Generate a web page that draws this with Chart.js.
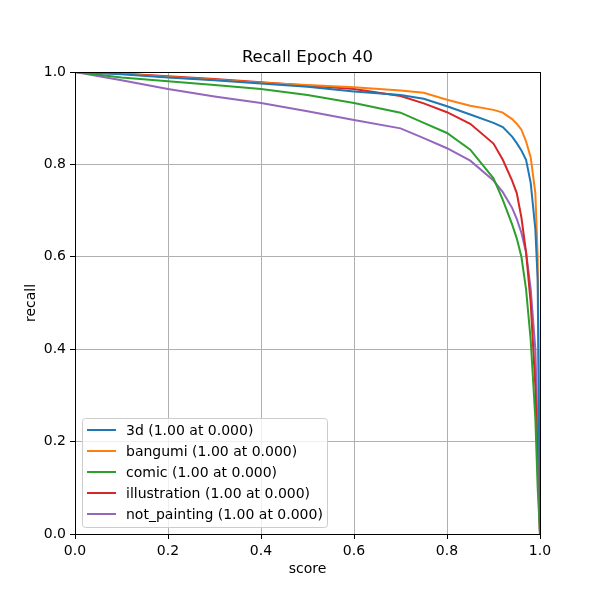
<!DOCTYPE html>
<html>
<head>
<meta charset="utf-8">
<script src="https://cdn.jsdelivr.net/npm/chart.js@4/dist/chart.umd.min.js"></script>
<style>html,body{margin:0;padding:0;background:#fff}</style>
</head>
<body>
<canvas id="c" width="600" height="600"></canvas>
<script>
const titleText = "Recall Epoch 40";
const xLabel = "score";
const yLabel = "recall";
const scores = [0,0.1,0.2,0.3,0.4,0.5,0.6,0.7,0.75,0.8,0.85,0.9,0.92,0.94,0.95,0.96,0.97,0.98,0.99,0.995,1.0];
const labels = ["3d (1.00 at 0.000)","bangumi (1.00 at 0.000)","comic (1.00 at 0.000)","illustration (1.00 at 0.000)","not_painting (1.00 at 0.000)"];
const recall3d =        [1,0.995,0.988,0.982,0.975,0.968,0.958,0.950,0.942,0.926,0.908,0.890,0.881,0.860,0.846,0.830,0.810,0.760,0.660,0.550,0.0];
const recallBangumi =   [1,0.996,0.989,0.983,0.977,0.972,0.967,0.960,0.955,0.940,0.927,0.918,0.912,0.898,0.888,0.875,0.850,0.815,0.738,0.600,0.0];
const recallComic =     [1,0.988,0.980,0.972,0.963,0.950,0.933,0.912,0.890,0.868,0.832,0.770,0.723,0.670,0.640,0.600,0.530,0.420,0.250,0.100,0.0];
const recallIllust =    [1,0.997,0.991,0.985,0.978,0.971,0.963,0.948,0.932,0.913,0.888,0.845,0.810,0.765,0.738,0.685,0.610,0.500,0.320,0.150,0.0];
const recallNotPaint =  [1,0.982,0.963,0.947,0.933,0.915,0.896,0.878,0.857,0.835,0.808,0.765,0.740,0.706,0.682,0.652,0.610,0.530,0.400,0.220,0.0];
const tickValues = [0,0.2,0.4,0.6,0.8,1.0];

const series = [recall3d, recallBangumi, recallComic, recallIllust, recallNotPaint];
const colors = ['#1f77b4','#ff7f0e','#2ca02c','#d62728','#9467bd'];
const FONT = "'DejaVu Sans', sans-serif";

const datasets = series.map((vals, k) => ({
  label: labels[k],
  data: vals.map((v, i) => ({x: scores[i], y: v})),
  borderColor: colors[k],
  backgroundColor: colors[k],
  borderWidth: 2,
  pointRadius: 0,
  tension: 0,
  fill: false
}));

const framePlugin = {
  id: 'frame',
  afterDatasetsDraw(chart) {
    const {ctx, chartArea: a} = chart;
    ctx.save();
    ctx.strokeStyle = '#000';
    ctx.lineWidth = 1;
    ctx.strokeRect(Math.round(a.left)+0.5, Math.round(a.top)+0.5, Math.round(a.right-a.left), Math.round(a.bottom-a.top));
    // title
    ctx.fillStyle = '#000';
    ctx.font = "16.5px " + FONT;
    ctx.textAlign = 'center';
    ctx.textBaseline = 'middle';
    ctx.fillText(titleText, (a.left + a.right) / 2, 58);
    // legend
    const bx = 82.5, by = 418.5, bw = 245, bh = 109, r = 3;
    ctx.beginPath();
    ctx.moveTo(bx+r, by);
    ctx.lineTo(bx+bw-r, by); ctx.quadraticCurveTo(bx+bw, by, bx+bw, by+r);
    ctx.lineTo(bx+bw, by+bh-r); ctx.quadraticCurveTo(bx+bw, by+bh, bx+bw-r, by+bh);
    ctx.lineTo(bx+r, by+bh); ctx.quadraticCurveTo(bx, by+bh, bx, by+bh-r);
    ctx.lineTo(bx, by+r); ctx.quadraticCurveTo(bx, by, bx+r, by);
    ctx.closePath();
    ctx.fillStyle = 'rgba(255,255,255,0.8)';
    ctx.fill();
    ctx.strokeStyle = '#cccccc';
    ctx.lineWidth = 1;
    ctx.stroke();
    ctx.font = "14px " + FONT;
    ctx.textBaseline = 'middle';
    ctx.textAlign = 'left';
    labels.forEach((lab, k) => {
      const y = 430 + k * 21;
      ctx.strokeStyle = colors[k];
      ctx.lineWidth = 2;
      ctx.beginPath();
      ctx.moveTo(87, y); ctx.lineTo(116, y);
      ctx.stroke();
      ctx.fillStyle = '#000';
      ctx.fillText(lab, 126, y + 1);
    });
    ctx.restore();
  }
};

new Chart(document.getElementById('c'), {
  type: 'line',
  data: { datasets },
  options: {
    responsive: false,
    animation: false,
    layout: { padding: { left: 0, right: 60, top: 72, bottom: 0 } },
    plugins: {
      legend: { display: false },
      tooltip: { enabled: false },
      title: { display: false }
    },
    scales: {
      x: {
        type: 'linear', min: 0, max: 1,
        afterFit(s) { s.height = 66; },
        afterBuildTicks(s) { s.ticks = tickValues.map(v => ({value: v})); },
        ticks: { color: '#000', font: { family: FONT, size: 14 }, padding: 4, maxRotation: 0,
                 callback: v => Number(v).toFixed(1) },
        grid: { color: '#b0b0b0', lineWidth: 1, tickColor: '#000', tickLength: 5 },
        border: { color: '#000', width: 1 },
        title: { display: true, text: xLabel, color: '#000', font: { family: FONT, size: 14 }, padding: { top: 0, bottom: 22.6 } }
      },
      y: {
        type: 'linear', min: 0, max: 1,
        afterFit(s) { s.width = 75; },
        afterBuildTicks(s) { s.ticks = tickValues.map(v => ({value: v})); },
        ticks: { color: '#000', font: { family: FONT, size: 14 }, padding: 4,
                 callback: v => Number(v).toFixed(1) },
        grid: { color: '#b0b0b0', lineWidth: 1, tickColor: '#000', tickLength: 5 },
        border: { color: '#000', width: 1 },
        title: { display: true, text: yLabel, color: '#000', font: { family: FONT, size: 14 }, padding: { top: 22.6, bottom: 0 } }
      }
    }
  },
  plugins: [framePlugin]
});
</script>
</body>
</html>
